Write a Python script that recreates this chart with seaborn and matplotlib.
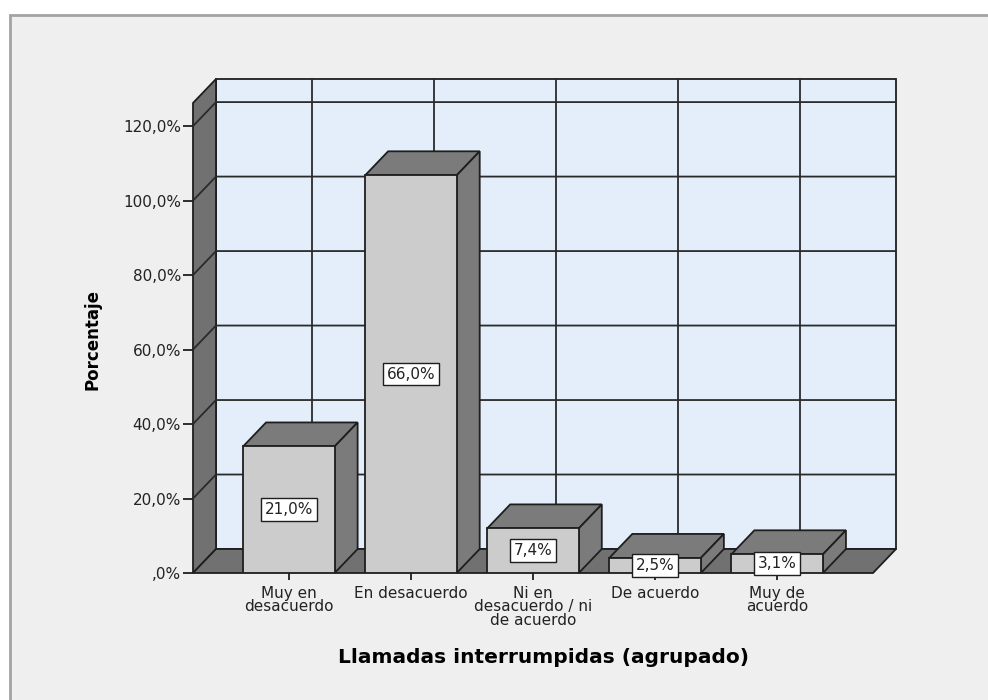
import matplotlib
matplotlib.use("Agg")
import matplotlib.pyplot as plt
from matplotlib.patches import Polygon, Rectangle
import seaborn as sns
import pandas as pd

# Data
categories = ["Muy en desacuerdo", "En desacuerdo",
              "Ni en desacuerdo / ni de acuerdo", "De acuerdo", "Muy de acuerdo"]
tick_labels = ["Muy en\ndesacuerdo", "En desacuerdo",
               "Ni en\ndesacuerdo / ni\nde acuerdo", "De acuerdo", "Muy de\nacuerdo"]
percent = [21.0, 66.0, 7.4, 2.5, 3.1]
y_ticks = [0, 20, 40, 60, 80, 100, 120]

x_title = "Llamadas interrumpidas (agrupado)"
y_title = "Porcentaje"

# Styling / layout
sns.set_theme(style="white")
plt.rcParams["font.family"] = ["DejaVu Sans"]

W, H = 988, 700
BG = "#efefef"
WALL = "#e3eefa"
SHADE = "#717171"
BAR_FRONT = "#cccccc"
BAR_SHADE = "#7b7b7b"
EDGE = "#1e1e1e"
TXT = "#222222"

# front plane of the box in pixels
left_px, right_px, top_px, bottom_px = 193, 873, 103, 573
depth_x_px, depth_y_px = 23, 24

wall_top = 126.2          # value at the top of the front plane (axis scale)
bar_top = 78.0            # value at the top of the front plane (bar scale)
xlim = (-0.785, 4.785)

fig = plt.figure(figsize=(W / 100, H / 100), dpi=100)
fig.patch.set_facecolor("white")
fig.add_artist(Rectangle((10 / W, -0.1), 1.2, (H - 15) / H + 0.1,
                         transform=fig.transFigure, facecolor=BG,
                         edgecolor="#a3a3a3", linewidth=2, zorder=-10))

rect = [left_px / W, (H - bottom_px) / H,
        (right_px - left_px) / W, (bottom_px - top_px) / H]
ax = fig.add_axes(rect)
axb = fig.add_axes(rect, sharex=ax)

ax_w_px = right_px - left_px
ax_h_px = bottom_px - top_px
dx = depth_x_px / ax_w_px * (xlim[1] - xlim[0])
dy = depth_y_px / ax_h_px * wall_top
dyb = depth_y_px / ax_h_px * bar_top

ax.set_facecolor("none")
ax.set_xlim(*xlim)
ax.set_ylim(0, wall_top)
for s in ax.spines.values():
    s.set_visible(False)

x0, x1 = xlim
# back wall
ax.add_patch(Polygon([(x0 + dx, dy), (x1 + dx, dy), (x1 + dx, wall_top + dy),
                      (x0 + dx, wall_top + dy)], closed=True, facecolor=WALL,
                     edgecolor=EDGE, linewidth=1.3, zorder=0, clip_on=False))
# left wall
ax.add_patch(Polygon([(x0, 0), (x0, wall_top), (x0 + dx, wall_top + dy),
                      (x0 + dx, dy)], closed=True, facecolor=SHADE,
                     edgecolor=EDGE, linewidth=1.3, zorder=1, clip_on=False))
# floor
ax.add_patch(Polygon([(x0, 0), (x1, 0), (x1 + dx, dy), (x0 + dx, dy)],
                     closed=True, facecolor=SHADE, edgecolor=EDGE,
                     linewidth=1.3, zorder=1, clip_on=False))
# gridlines on left wall and back wall
for v in y_ticks[1:]:
    ax.plot([x0, x0 + dx, x1 + dx], [v, v + dy, v + dy], color="#2a2a2a",
            linewidth=1.3, zorder=2, clip_on=False, solid_capstyle="butt")
for c in range(len(categories)):
    ax.plot([c + dx, c + dx], [dy, wall_top + dy], color="#2a2a2a",
            linewidth=1.3, zorder=2, clip_on=False)

# axis ticks and labels
ax.set_yticks(y_ticks)
ax.set_yticklabels([(f"{v:.1f}".replace(".", ",").lstrip("0") if v == 0
                     else f"{v:.1f}".replace(".", ",")) + "%" for v in y_ticks])
ax.tick_params(axis="y", which="major", left=True, length=7.2, width=1.3,
               color=EDGE, pad=1.5, labelsize=11, labelcolor=TXT)
ax.tick_params(axis="x", which="major", bottom=True, length=5, width=1.3,
               color=EDGE, pad=4.5, labelsize=11, labelcolor=TXT)
ax.set_ylabel(y_title, fontsize=12, fontweight="bold", color="black")
ax.yaxis.set_label_coords(-0.135, 0.496)
ax.set_xlabel(x_title, fontsize=14.5, fontweight="bold", color="black")
ax.xaxis.set_label_coords(0.516, -0.160)

# bars
df = pd.DataFrame({"cat": categories, "pct": percent})
sns.barplot(data=df, x="cat", y="pct", order=categories, color=BAR_FRONT,
            saturation=1, width=0.75, edgecolor=EDGE, linewidth=1.3, ax=axb)
axb.set_xlim(*xlim)
axb.set_ylim(0, bar_top)
axb.set_axis_off()
ax.set_xticks(range(len(categories)))
ax.set_xticklabels(tick_labels, linespacing=0.85)

for p, val in zip(list(axb.patches), percent):
    x, w, h = p.get_x(), p.get_width(), p.get_height()
    p.set_zorder(3)
    top = Polygon([(x, h), (x + w, h), (x + w + dx, h + dyb), (x + dx, h + dyb)],
                  closed=True, facecolor=BAR_SHADE, edgecolor=EDGE,
                  linewidth=1.3, zorder=2, clip_on=False)
    side = Polygon([(x + w, 0), (x + w, h), (x + w + dx, h + dyb),
                    (x + w + dx, dyb)], closed=True, facecolor=BAR_SHADE,
                   edgecolor=EDGE, linewidth=1.3, zorder=2, clip_on=False)
    axb.add_patch(top)
    axb.add_patch(side)
    axb.text(x + w / 2, h / 2, f"{val:.1f}".replace(".", ",") + "%",
             ha="center", va="center", fontsize=11, color=TXT, zorder=5,
             bbox=dict(boxstyle="square,pad=0.25", facecolor="white",
                       edgecolor=EDGE, linewidth=1.0))

fig.savefig("out.png", dpi=100, facecolor=fig.get_facecolor())
